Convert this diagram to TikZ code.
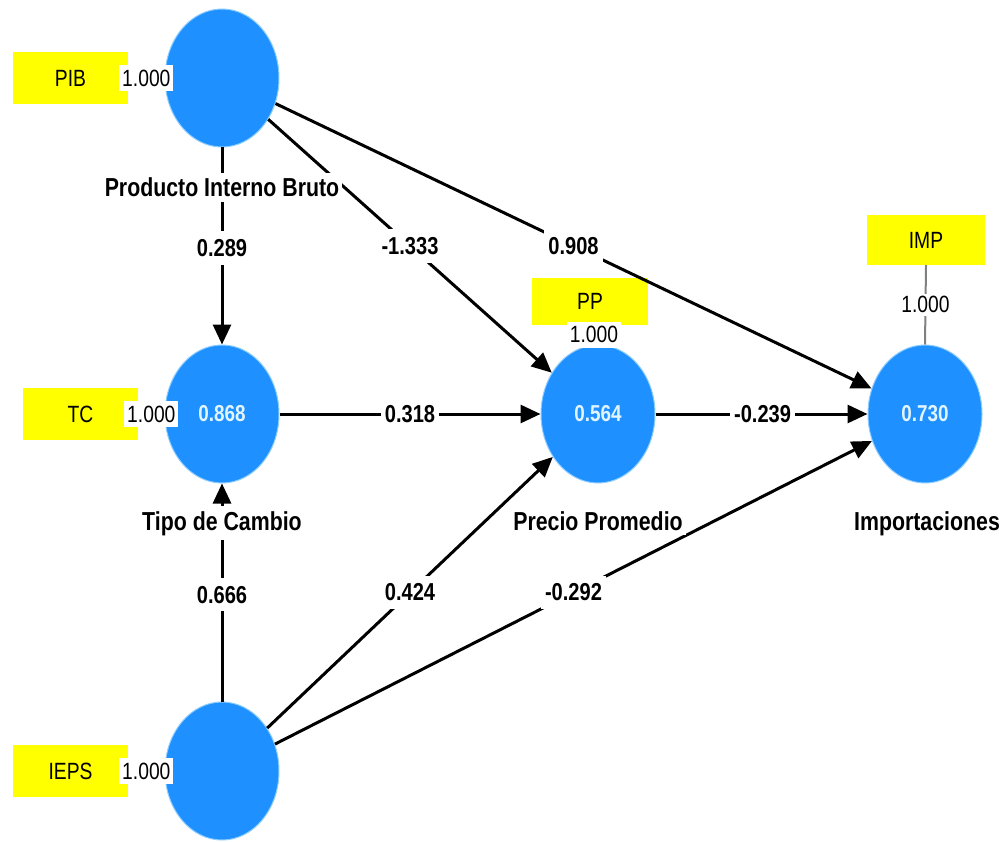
\documentclass[tikz,border=0pt]{standalone}
\usepackage{fontspec}
\setmainfont{Liberation Sans}[FakeStretch=0.82]
\usetikzlibrary{shapes.geometric,arrows.meta}
\definecolor{lvblue}{RGB}{30,144,255}
\definecolor{lvedge}{RGB}{140,205,255}
\definecolor{indyellow}{RGB}{255,255,0}
\definecolor{valtext}{RGB}{225,245,255}
\tikzset{
  latent/.style={ellipse, fill=lvblue, draw=lvedge, line width=1pt, minimum width=114pt, minimum height=138pt, inner sep=0pt, text=valtext, font=\fontsize{23}{27}\selectfont\bfseries},
  indic/.style={fill=indyellow, minimum width=115pt, minimum height=52pt, inner sep=0pt, font=\fontsize{23.5}{27}\selectfont},
  lvname/.style={anchor=base, fill=white, inner xsep=3pt, inner ysep=5pt, font=\fontsize{26}{30}\selectfont\bfseries},
  pathedge/.style={line width=3pt, -{Triangle[length=20pt,width=18pt]}},
  coef/.style={fill=white, inner xsep=4pt, inner ysep=8pt, font=\fontsize{24.5}{28}\selectfont\bfseries},
  loading/.style={draw=gray, line width=2pt},
  loadlbl/.style={fill=white, inner xsep=3pt, inner ysep=5pt, font=\fontsize{23.5}{27}\selectfont}
}
\begin{document}
\begin{tikzpicture}[x=1pt,y=-1pt]
\useasboundingbox[fill=white] (0,0) rectangle (1003,842);

% latent variables
\node[latent] (pib) at (222,78) {};
\node[latent] (tc) at (222,414) {0.868};
\node[latent] (ieps) at (222,771) {};
\node[latent] (pp) at (598,414) {0.564};
\node[latent] (imp) at (925,414) {0.730};

% indicators
\node[indic] (pibi) at (70.5,78) {PIB};
\node[indic] (tci) at (80.5,414) {TC};
\node[indic] (iepsi) at (70.5,771) {IEPS};
\node[indic, minimum width=116pt, minimum height=47pt] (ppi) at (590,301.5) {PP};
\node[indic, minimum width=118pt, minimum height=50pt] (impi) at (926,240) {IMP};

% loadings
\draw[loading] (pibi) -- (pib) node[loadlbl, pos=0.5] (pibl) {1.000};
\draw[loading] (tci) -- (tc) node[loadlbl, pos=0.5] (tcl) {1.000};
\draw[loading] (iepsi) -- (ieps) node[loadlbl, pos=0.5] (iepsl) {1.000};
\draw[loading] (ppi.south) -- (pp.north) node[loadlbl, pos=0.5] (ppl) {1.000};
\draw[loading] (impi.south) -- (imp.north) node[loadlbl, pos=0.5, inner ysep=3pt] (impl) {1.000};

% structural paths
\draw[pathedge] (pib) -- (tc) node[coef, pos=0.51] {0.289};
\draw[pathedge] (pib) -- (pp) node[coef, pos=0.5] {-1.333};
\draw[pathedge] (pib) -- (imp) node[coef, pos=0.5] {0.908};
\draw[pathedge] (tc) -- (pp) node[coef, pos=0.5] {0.318};
\draw[pathedge] (pp) -- (imp) node[coef, pos=0.505] {-0.239};
\draw[pathedge] (ieps) -- (tc) node[coef, pos=0.49] {0.666};
\draw[pathedge] (ieps) -- (pp) node[coef, pos=0.5] {0.424};
\draw[pathedge] (ieps) -- (imp) node[coef, pos=0.5] {-0.292};

% names (on top of the lines)
\node[lvname] (pibname) at (222,197) {Producto Interno Bruto};
\node[lvname] (tcname) at (222,530) {Tipo de Cambio};
\node[lvname] (ppname) at (598,530) {Precio Promedio};
\node[lvname] (impname) at (927,530) {Importaciones};
\end{tikzpicture}
\end{document}
